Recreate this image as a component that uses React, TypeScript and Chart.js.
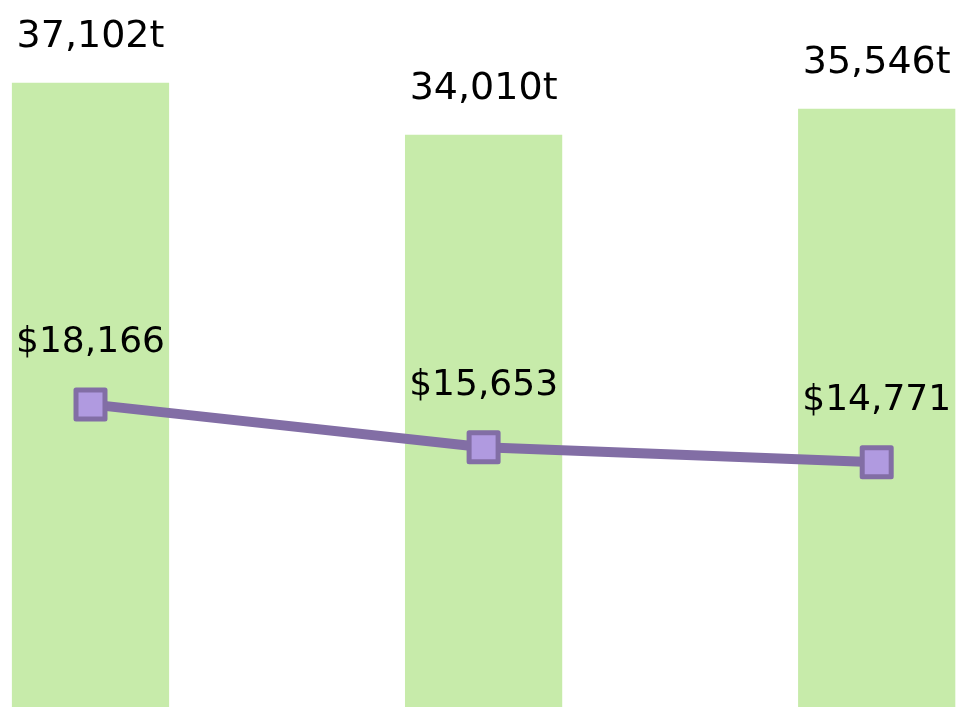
import React, { useEffect, useRef } from "react";
import { Chart, registerables } from "chart.js";

Chart.register(...registerables);

const categories = ["A", "B", "C"];
const tonnage = [37102, 34010, 35546];
const price = [18166, 15653, 14771];

const BAR_COLOR = "#c7ebaa";
const LINE_COLOR = "#826ea5";
const POINT_FILL = "#b09ae0";
const FONT = "'DejaVu Sans', Verdana, sans-serif";

const labelPlugin = {
  id: "valueLabels",
  beforeDatasetsDraw(chart: any) {
    chart.ctx.lineJoin = "round";
  },
  afterDatasetsDraw(chart: any) {
    const ctx = chart.ctx;
    ctx.save();
    ctx.fillStyle = "#000";
    ctx.textAlign = "center";
    ctx.textBaseline = "alphabetic";
    const barMeta = chart.getDatasetMeta(1);
    ctx.font = `38px ${FONT}`;
    barMeta.data.forEach((el: any, i: number) => {
      ctx.fillText(tonnage[i].toLocaleString("en-US") + "t", el.x, el.y - 35.5);
    });
    const lineMeta = chart.getDatasetMeta(0);
    ctx.font = `36px ${FONT}`;
    lineMeta.data.forEach((el: any, i: number) => {
      ctx.fillText("$" + price[i].toLocaleString("en-US"), el.x, el.y - 52);
    });
    ctx.restore();
  },
};

export default function App() {
  const ref = useRef<HTMLCanvasElement | null>(null);
  useEffect(() => {
    const canvas = ref.current!;
    const chart = new Chart(canvas, {
      type: "bar",
      data: {
        labels: categories,
        datasets: [
          {
            type: "line",
            data: price,
            yAxisID: "y1",
            order: 0,
            borderColor: LINE_COLOR,
            borderWidth: 10,
            borderJoinStyle: "round",
            borderCapStyle: "round",
            tension: 0,
            pointStyle: "rect",
            pointRadius: 20.5,
            pointHoverRadius: 20.5,
            pointBackgroundColor: POINT_FILL,
            pointBorderColor: LINE_COLOR,
            pointBorderWidth: 5,
            clip: false,
          } as any,
          {
            type: "bar",
            data: tonnage,
            yAxisID: "y",
            order: 1,
            backgroundColor: BAR_COLOR,
            barPercentage: 0.5,
            categoryPercentage: 0.8,
            clip: false,
          } as any,
        ],
      },
      options: {
        responsive: false,
        animation: false,
        events: [],
        layout: { autoPadding: false, padding: { left: 90.5, right: 79.3, top: 0, bottom: 0 } },
        plugins: { legend: { display: false }, tooltip: { enabled: false } },
        scales: {
          x: { display: false, offset: false },
          y: { display: false, min: 0, max: 42016 },
          y1: { display: false, min: 420, max: 41880, position: "right" },
        },
      },
      plugins: [labelPlugin],
    });
    return () => chart.destroy();
  }, []);
  return (
    <canvas
      ref={ref}
      width={956}
      height={707}
      style={{ position: "absolute", left: 0, top: 0, width: 956, height: 707 }}
    />
  );
}
